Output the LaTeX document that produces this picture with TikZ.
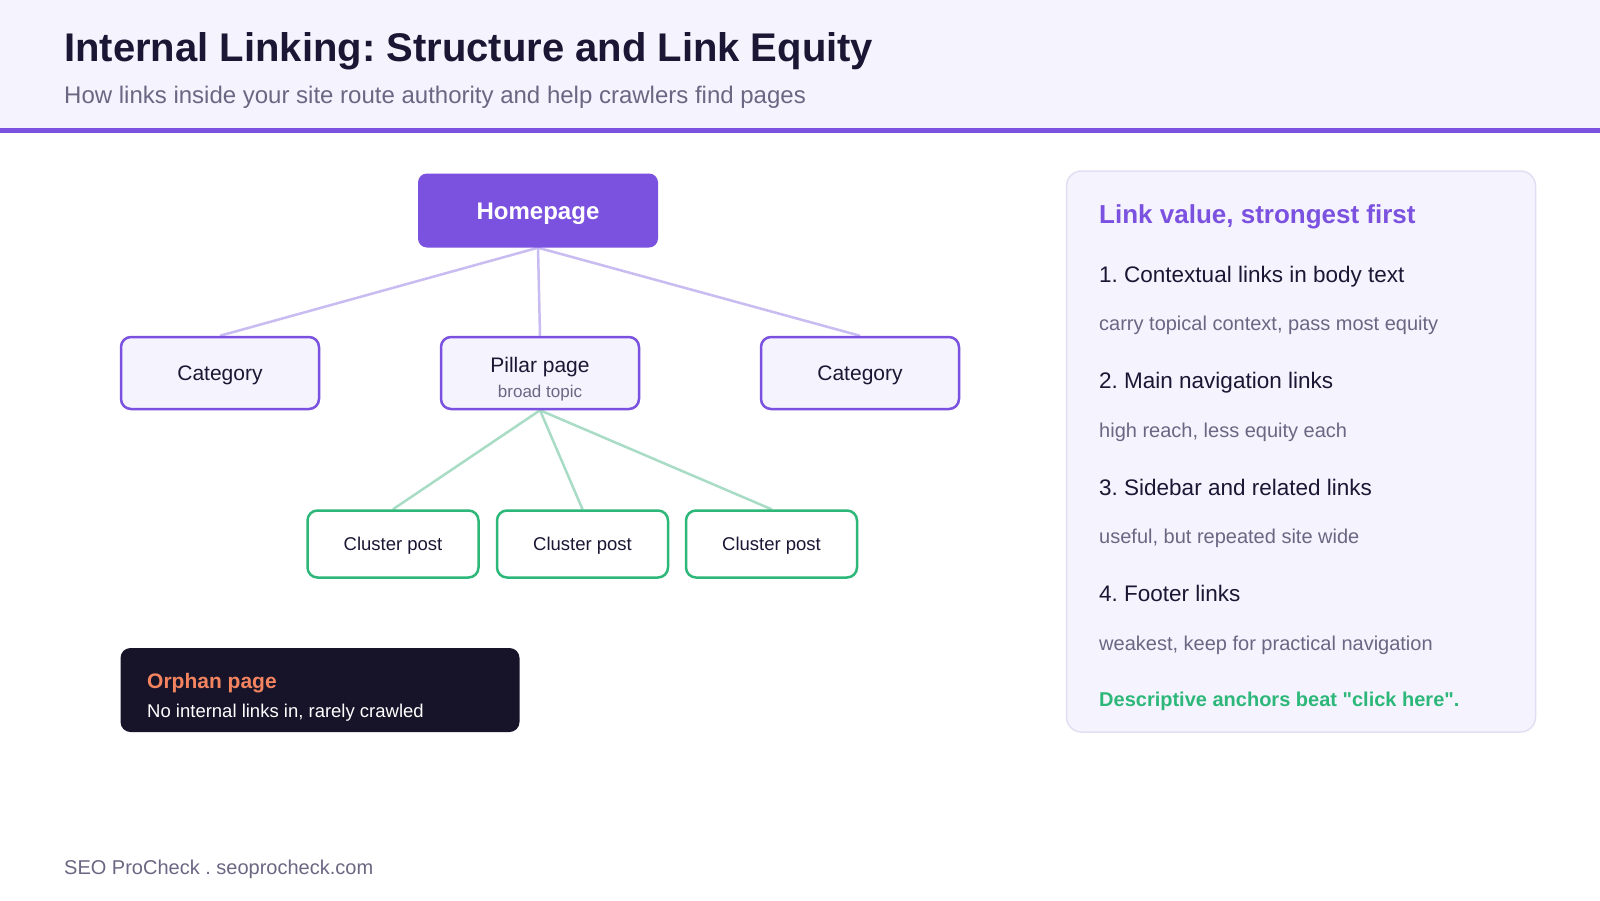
\documentclass[tikz,border=0pt]{standalone}
\usepackage{fontspec}
\setmainfont{Liberation Sans}[Ligatures=TeXOff]
\usepackage{tikz}
\usetikzlibrary{backgrounds}
\frenchspacing

\definecolor{inkdark}{HTML}{1B1633}
\definecolor{inkgray}{HTML}{6B6783}
\definecolor{brandviolet}{HTML}{7B52E0}
\definecolor{paleviolet}{HTML}{F5F3FE}
\definecolor{lineviolet}{HTML}{C8BCF2}
\definecolor{brandgreen}{HTML}{2DB87A}
\definecolor{linegreen}{HTML}{A8DCC5}
\definecolor{orphanbg}{HTML}{17142A}
\definecolor{orphanorange}{HTML}{F4845F}
\definecolor{panelrule}{HTML}{E3DFF2}

\newcommand{\fsz}[1]{\fontsize{#1}{#1}\selectfont}

\begin{document}
\begin{tikzpicture}[x=1pt,y=-1pt,
  txt/.style={anchor=base west,inner sep=0pt},
  homebox/.style={rectangle,rounded corners=9pt,fill=brandviolet,text=white,
    font=\fsz{24}\bfseries,minimum width=240pt,minimum height=74pt,inner sep=0pt,
    text height=17.2pt,text depth=0pt},
  pagebox/.style={rectangle,rounded corners=10pt,draw=brandviolet,line width=2.5pt,
    fill=paleviolet,text=inkdark,font=\fsz{21},minimum width=198pt,
    minimum height=72pt,inner sep=0pt,text height=15pt,text depth=0pt},
  postbox/.style={rectangle,rounded corners=10pt,draw=brandgreen,line width=2.5pt,
    fill=white,text=inkdark,font=\fsz{18.5},minimum width=171pt,
    minimum height=67pt,inner sep=0pt,text height=13.2pt,text depth=0pt},
  homelink/.style={draw=lineviolet,line width=2.5pt},
  pillarlink/.style={draw=linegreen,line width=2.5pt}]%
\useasboundingbox (0,0) rectangle (1600,900);%
% header
\fill[paleviolet] (0,0) rectangle (1600,128);%
\fill[brandviolet] (0,128) rectangle (1600,133);%
\node[txt,font=\fsz{40}\bfseries,text=inkdark] (title) at (64,61) {Internal Linking: Structure and Link Equity};%
\node[txt,font=\fsz{24},text=inkgray] (subtitle) at (64,103) {How links inside your site route authority and help crawlers find pages};%
% site tree
\node[homebox] (home) at (538,210.5) {Homepage};%
\node[pagebox] (catleft) at (220,373) {Category};%
\node[pagebox] (pillar) at (540,373) {};%
\node[pagebox] (catright) at (860,373) {Category};%
\node[anchor=base,inner sep=0pt,font=\fsz{21},text=inkdark] (pillartitle) at (540,372) {Pillar page};%
\node[anchor=base,inner sep=0pt,font=\fsz{17},text=inkgray] (pillarnote) at (540,397) {broad topic};%
\node[postbox] (postA) at (393,544) {Cluster post};%
\node[postbox] (postB) at (582.5,544) {Cluster post};%
\node[postbox] (postC) at (771.5,544) {Cluster post};%
\begin{scope}[on background layer]%
\fill[white] (0,0) rectangle (1600,900);%
\draw[homelink] (home.south) -- (catleft.north);%
\draw[homelink] (home.south) -- (pillar.north);%
\draw[homelink] (home.south) -- (catright.north);%
\foreach \p in {postA,postB,postC}
  \draw[pillarlink] (pillar.south) -- (\p.north);%
\end{scope}%
% orphan page
\node[rectangle,rounded corners=10pt,fill=orphanbg,minimum width=399pt,
  minimum height=84pt,inner sep=0pt] (orphan) at (320,690) {};%
\node[txt,font=\fsz{21}\bfseries,text=orphanorange] (orphantitle) at (147,688) {Orphan page};%
\node[txt,font=\fsz{18.5},text=white] (orphannote) at (147,717) {No internal links in, rarely crawled};%
% link value panel
\node[rectangle,rounded corners=15pt,draw=panelrule,line width=1.5pt,fill=paleviolet,
  minimum width=469pt,minimum height=561pt,inner sep=0pt] (valuepanel) at (1301,451.5) {};%
\node[txt,font=\fsz{26}\bfseries,text=brandviolet] (valuetitle) at (1099,223) {Link value, strongest first};%
\foreach \n/\head/\desc [count=\k from 0] in
  {1/{Contextual links in body text}/{carry topical context, pass most equity},
   2/{Main navigation links}/{high reach, less equity each},
   3/{Sidebar and related links}/{useful, but repeated site wide},
   4/{Footer links}/{weakest, keep for practical navigation}}{%
  \node[txt,font=\fsz{22.5},text=inkdark] (item\n) at (1099,282+106.5*\k) {\n. \head};%
  \node[txt,font=\fsz{20},text=inkgray] (desc\n) at (1099,330.5+106.5*\k) {\desc};%
}%
\node[txt,font=\fsz{20}\bfseries,text=brandgreen] (anchortip) at (1099,706) {Descriptive anchors beat "click here".};%
% footer
\node[txt,font=\fsz{20},text=inkgray] (footer) at (64,874) {SEO ProCheck . seoprocheck.com};%
\end{tikzpicture}
\end{document}
